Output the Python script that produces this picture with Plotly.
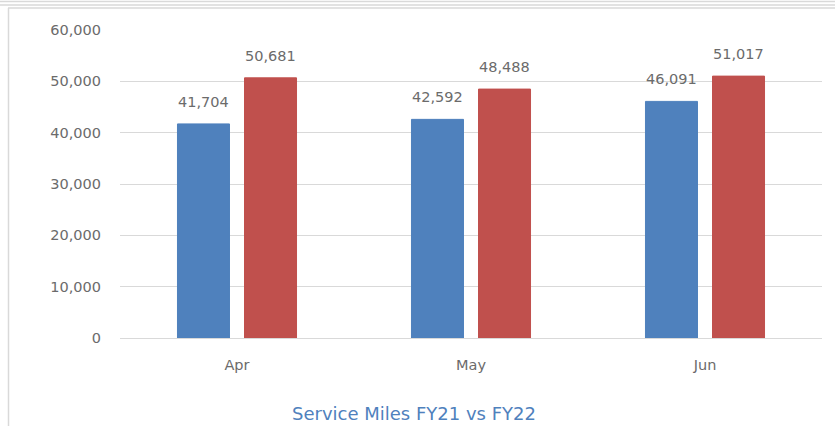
import plotly.graph_objects as go

months = ["Apr", "May", "Jun"]
fy21 = [41704, 42592, 46091]
fy22 = [50681, 48488, 51017]
y_ticks = [0, 10000, 20000, 30000, 40000, 50000, 60000]

BLUE = "#4F81BD"
RED = "#C0504D"
GREY_TEXT = "#6B6B6B"
FONT = "DejaVu Sans"

# plot area in pixels: x 120..822, y 30..338
L, R, T, B = 120, 13, 30, 88
W, H = 835, 426
PW, PH = W - L - R, H - T - B


def px(x):
    return (x - L) / PW


def py(y):
    return (H - B - y) / PH


fig = go.Figure()
for name, vals, color, shift in [("FY21", fy21, BLUE, -33.5), ("FY22", fy22, RED, 33.5)]:
    fig.add_trace(go.Bar(
        x=months, y=vals, name=name,
        marker=dict(color=color, line=dict(color=color, width=1)),
    ))
    # value labels a bit above each bar, like the Excel original
    for m, v in zip(months, vals):
        fig.add_annotation(
            x=m, y=v, text=f"{v:,}", showarrow=False,
            xshift=shift, yshift=12, yanchor="bottom",
            font=dict(color=GREY_TEXT, size=14.5, family=FONT),
        )

# outer frame decoration
frame = dict(type="line", xref="paper", yref="paper", line=dict(color="#D9D9D9", width=1.5))
fig.add_shape(**frame, x0=px(0), x1=px(W), y0=py(1.5), y1=py(1.5))
fig.add_shape(**frame, x0=px(0), x1=px(W), y0=py(5), y1=py(5))
fig.add_shape(**frame, x0=px(8), x1=px(W), y0=py(8), y1=py(8))
fig.add_shape(**frame, x0=px(8.5), x1=px(8.5), y0=py(8), y1=py(H))

fig.add_annotation(
    text="Service Miles FY21 vs FY22",
    xref="paper", yref="paper", x=px(414), y=py(413),
    xanchor="center", yanchor="middle", showarrow=False,
    font=dict(color=BLUE, size=18, family=FONT),
)

fig.update_layout(
    width=W, height=H,
    margin=dict(l=L, r=R, t=T, b=B),
    paper_bgcolor="white", plot_bgcolor="white",
    barmode="group", bargap=0.427, bargroupgap=0.224,
    showlegend=False,
    font=dict(family=FONT, color=GREY_TEXT, size=14),
)
fig.update_xaxes(
    showgrid=False, showline=False, ticks="",
    ticklabelstandoff=16,
    tickfont=dict(size=14.5, color=GREY_TEXT),
)
fig.update_yaxes(
    range=[0, 60000], tickvals=y_ticks, tickformat=",",
    showgrid=True, gridcolor="#D9D9D9", gridwidth=1,
    zeroline=True, zerolinecolor="#D9D9D9", zerolinewidth=1,
    ticks="", ticklabelstandoff=18,
    tickfont=dict(size=14.5, color=GREY_TEXT),
)

fig.write_html(
    "out.html",
    config={"displayModeBar": False},
    post_script="document.body.style.margin='0';",
)
